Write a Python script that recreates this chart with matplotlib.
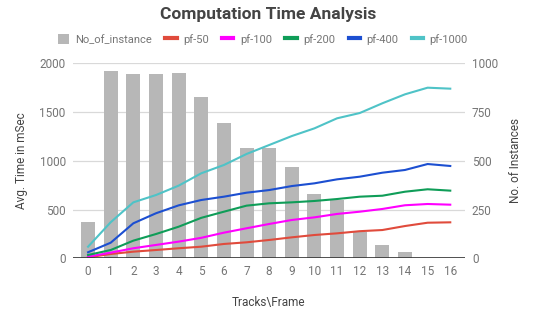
import matplotlib
matplotlib.use("Agg")
import matplotlib.pyplot as plt
from matplotlib.patches import Patch
from matplotlib.lines import Line2D

plt.rcParams['font.family'] = ['Roboto', 'DejaVu Sans']

# data
tracks = list(range(17))
no_of_instance = [185, 962, 945, 944, 949, 826, 695, 567, 567, 470, 330, 299, 136, 68, 31, 0, 0]
pf_50 = [10, 44, 68, 85, 103, 119, 147, 164, 188, 215, 239, 256, 278, 290, 331, 365, 369]
pf_100 = [17, 58, 103, 137, 171, 210, 263, 308, 352, 393, 420, 455, 478, 506, 544, 557, 550]
pf_200 = [34, 85, 181, 249, 324, 415, 478, 540, 564, 574, 588, 608, 632, 642, 683, 708, 694]
pf_400 = [62, 160, 359, 462, 543, 598, 632, 673, 700, 741, 769, 810, 837, 878, 906, 967, 947]
pf_1000 = [119, 370, 574, 649, 745, 872, 957, 1070, 1162, 1254, 1333, 1436, 1490, 1590, 1682, 1750, 1740]

series = [
    ("pf-50", pf_50, "#e04b3c"),
    ("pf-100", pf_100, "#ff00ff"),
    ("pf-200", pf_200, "#0f9d58"),
    ("pf-400", pf_400, "#1c4fd1"),
    ("pf-1000", pf_1000, "#4fc3c7"),
]
bar_color = "#b7b7b7"
text_gray = "#757575"

fig = plt.figure(figsize=(5.36, 3.15), dpi=100)
ax = fig.add_axes([0.1356, 0.18, 0.7319, 0.619])
ax2 = ax.twinx()

# bars on the right axis, drawn behind the lines
ax2.bar(tracks, no_of_instance, width=0.62, color=bar_color, zorder=2)
ax2.set_ylim(0, 1000)
ax2.set_yticks([0, 250, 500, 750, 1000])
ax2.yaxis.grid(True, color="#d9d9d9", linewidth=0.9, zorder=0)
ax2.set_axisbelow(True)
ax2.set_ylabel("No. of Instances", fontsize=8.5, color="#444444", labelpad=8)

ax.set_zorder(ax2.get_zorder() + 1)
ax.patch.set_visible(False)
for name, vals, col in series:
    ax.plot(tracks, vals, color=col, linewidth=1.5, label=name)
ax.set_ylim(0, 2000)
ax.set_yticks([0, 500, 1000, 1500, 2000])
ax.set_xlim(-0.68, 16.65)
ax.set_xticks(tracks)
ax.set_ylabel("Avg. Time in mSec", fontsize=8.5, color="#444444", labelpad=8)
ax.set_xlabel("Tracks\\Frame", fontsize=8.5, color="#444444", labelpad=13)

for a in (ax, ax2):
    for s in a.spines.values():
        s.set_visible(False)
    a.tick_params(length=0, labelsize=8.5, labelcolor=text_gray, pad=5)
ax.axhline(0, color="#333333", linewidth=1.2, zorder=5)

fig.text(0.5, 0.955, "Computation Time Analysis", ha="center", va="center",
         fontsize=12.5, fontweight="bold", color="#444444")

handles = [Patch(facecolor=bar_color, label="No_of_instance")]
handles += [Line2D([0], [0], color=c, linewidth=3, label=n) for n, _, c in series]
fig.legend(handles=handles, loc="center", bbox_to_anchor=(0.49, 0.875), ncol=6,
           frameon=False, fontsize=8, labelcolor=text_gray, handlelength=1.0,
           handleheight=1.0, handletextpad=0.6, columnspacing=1.2)

fig.savefig("out.png", dpi=100)
